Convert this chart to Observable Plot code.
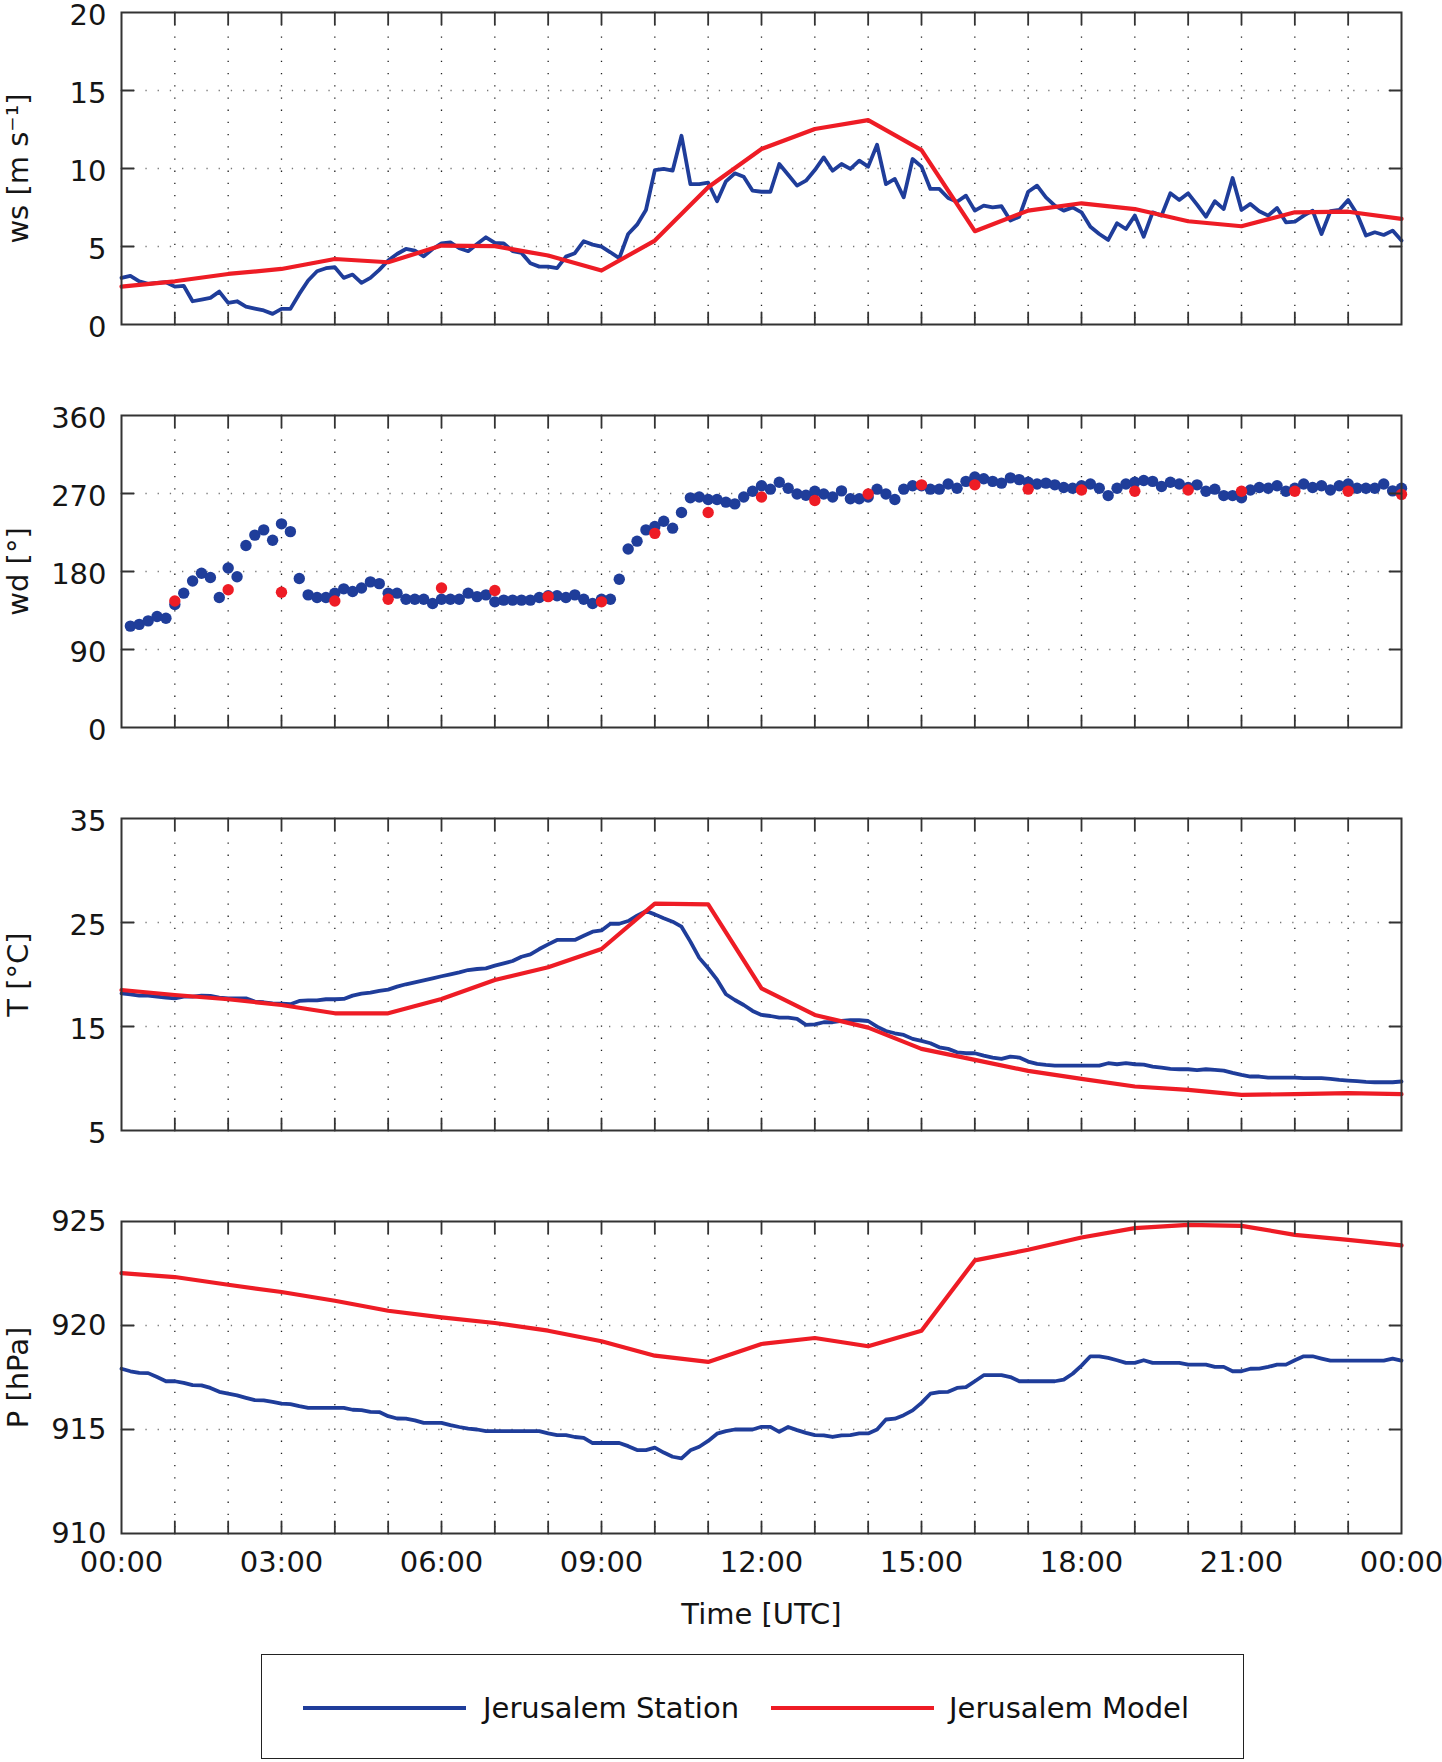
<!DOCTYPE html>
<html><head><meta charset="utf-8">
<script src="https://cdn.jsdelivr.net/npm/d3@7"></script>
<script src="https://cdn.jsdelivr.net/npm/@observablehq/plot@0.6"></script>
<style>
html,body{margin:0;padding:0;background:#fff;overflow:hidden;}
#wrap{position:relative;width:1442px;height:1762px;font-family:"DejaVu Sans",sans-serif;color:#111;}
#charts svg{display:block;}
#legend{position:absolute;left:261px;top:1654px;width:981px;height:103px;border:1.5px solid #222;background:#fff;}
#legend .ln{position:absolute;top:51px;width:163px;height:4px;}
#legend .tx{position:absolute;top:53px;transform:translateY(-50%);font-size:29px;line-height:1;white-space:nowrap;}
</style></head>
<body><div id="wrap"><div id="charts"></div>
<div id="legend">
  <div class="ln" id="l1" style="left:41px"></div>
  <div class="tx" style="left:221px">Jerusalem Station</div>
  <div class="ln" id="l2" style="left:509px"></div>
  <div class="tx" style="left:687px">Jerusalem Model</div>
</div></div>
<script>
// ---------- data ----------
// station: 10-minute samples 00:00 .. 24:00 (145 samples); model: hourly 00:00 .. 24:00 (25 values)
const stationHours = d3.range(145).map(i => i / 6);
const modelHours = d3.range(25);

const wsStation = [2.99,3.12,2.77,2.6,2.67,2.71,2.43,2.48,1.49,1.6,
1.71,2.11,1.39,1.49,1.15,1.02,0.9,0.68,1.0,1.0,
1.96,2.82,3.41,3.61,3.67,2.99,3.2,2.67,2.99,3.5,
4.1,4.52,4.84,4.74,4.37,4.84,5.2,5.27,4.89,4.7,
5.16,5.59,5.23,5.2,4.7,4.59,3.93,3.71,3.71,3.61,
4.35,4.57,5.34,5.12,4.99,4.63,4.25,5.8,6.4,7.34,
9.9,9.97,9.86,12.1,9.0,9.0,9.09,7.9,9.18,9.69,
9.47,8.58,8.51,8.51,10.29,9.6,8.9,9.22,9.9,10.71,
9.86,10.29,9.97,10.5,10.12,11.52,9.0,9.33,8.15,10.61,
10.12,8.69,8.69,8.11,7.87,8.26,7.3,7.62,7.51,7.58,
6.66,6.91,8.51,8.9,8.15,7.62,7.3,7.51,7.19,6.27,
5.8,5.42,6.49,6.12,6.98,5.63,7.19,6.98,8.41,7.98,
8.41,7.68,6.91,7.9,7.4,9.39,7.34,7.73,7.26,6.98,
7.47,6.55,6.59,6.98,7.3,5.8,7.26,7.34,7.98,7.08,
5.7,5.91,5.74,6.02,5.38];
const wsModel = [2.43,2.77,3.24,3.56,4.2,3.99,5.06,5.02,4.42,3.46,5.38,8.8,11.25,12.53,13.1,11.18,5.98,7.3,7.77,7.4,6.62,6.3,7.19,7.23,6.77];

const wdStation = [null,117,119,123,128,126,142,155,169,178,
173,150,184,174,210,222,228,216,235,226,
172,153,150,150,155,160,157,161,168,166,
155,155,148,148,148,143,148,148,148,155,
151,153,145,147,147,147,147,150,152,152,
150,153,148,143,148,148,171,206,215,228,
232,238,230,248,265,266,263,263,260,258,
266,272.6,279,275,283,276,269.5,268,272.6,269.5,
266,273,264,264,266,275,269.5,263,275,279,
279,275,275,281,276,284,289,287,284,282,
288,286,283,281,282,280,277,276,279,281,
276,267.6,276,281,283,285,284,278,283,281,
277,280,272.6,275,267.6,267.6,265,274,277,276,
279,272.6,276,281,277,279,274,279,281,276,
276,276,281,273,276];
const wdModel = [null,146,159,156,146,148,161,158,151,145,224,248,266,262,269.5,280,280,275,274,272.6,274,272.6,272.6,272.6,269];

const tStation = [18.19,18.1,17.97,17.97,17.87,17.78,17.71,17.87,17.87,17.97,
17.94,17.78,17.71,17.71,17.71,17.39,17.33,17.23,17.2,17.14,
17.46,17.52,17.52,17.62,17.62,17.65,17.97,18.16,18.26,18.42,
18.55,18.83,19.06,19.25,19.44,19.63,19.83,20.02,20.21,20.43,
20.53,20.59,20.85,21.07,21.3,21.71,21.94,22.45,22.9,23.32,
23.32,23.32,23.73,24.12,24.24,24.88,24.88,25.14,25.65,26.1,
25.78,25.4,25.08,24.6,23.16,21.6,20.6,19.5,18.1,17.55,
17.07,16.5,16.11,16.01,15.85,15.85,15.73,15.15,15.21,15.41,
15.41,15.53,15.6,15.6,15.53,14.99,14.57,14.35,14.19,13.81,
13.61,13.39,13.0,12.85,12.52,12.43,12.43,12.2,12.01,11.88,
12.11,12.01,11.63,11.4,11.31,11.24,11.24,11.24,11.24,11.24,
11.24,11.47,11.37,11.47,11.37,11.34,11.15,11.05,10.92,10.89,
10.89,10.8,10.89,10.83,10.76,10.54,10.35,10.19,10.19,10.09,
10.09,10.09,10.09,10.03,10.03,10.03,9.96,9.87,9.8,9.74,
9.68,9.64,9.64,9.64,9.71];
const tModel = [18.51,18.03,17.62,17.07,16.27,16.27,17.65,19.47,20.69,22.45,26.81,26.74,18.67,16.11,14.89,12.85,11.79,10.73,9.96,9.23,8.91,8.43,8.49,8.59,8.49];

const pStation = [917.92,917.8,917.72,917.71,917.52,917.32,917.32,917.24,917.13,917.12,
917.0,916.81,916.72,916.64,916.52,916.41,916.4,916.33,916.24,916.22,
916.12,916.04,916.04,916.04,916.04,916.04,915.95,915.93,915.85,915.84,
915.64,915.53,915.52,915.44,915.32,915.32,915.32,915.21,915.12,915.04,
915.0,914.92,914.92,914.92,914.92,914.92,914.92,914.92,914.81,914.73,
914.73,914.64,914.6,914.35,914.35,914.35,914.35,914.2,914.01,914.01,
914.13,913.89,913.69,913.61,914.0,914.17,914.45,914.8,914.92,915.0,
915.0,915.0,915.13,915.13,914.89,915.12,914.97,914.84,914.73,914.72,
914.64,914.72,914.73,914.81,914.81,915.0,915.48,915.52,915.69,915.92,
916.28,916.72,916.8,916.81,917.0,917.04,917.32,917.61,917.61,917.61,
917.52,917.32,917.32,917.32,917.32,917.32,917.4,917.68,918.07,918.52,
918.52,918.44,918.33,918.2,918.2,918.33,918.2,918.2,918.2,918.2,
918.12,918.12,918.12,918.01,918.01,917.8,917.8,917.92,917.93,918.01,
918.12,918.12,918.33,918.52,918.52,918.41,918.31,918.31,918.31,918.31,
918.31,918.31,918.31,918.41,918.31];
const pModel = [922.52,922.33,921.96,921.61,921.19,920.71,920.39,920.12,919.75,919.24,918.55,918.25,919.11,919.4,919.0,919.75,923.13,923.64,924.23,924.68,924.84,924.79,924.36,924.12,923.85];

const wsTicks = [0,5,10,15,20];
const wdTicks = [0,90,180,270,360];
const tTicks = [5,15,25,35];
const pTicks = [910,915,920,925];
const hourTicks = d3.range(1,24);
const hourLabels = [0,3,6,9,12,15,18,21,24];

const labels = {ws: "ws [m s\u207B\u00B9]", wd: "wd [\u00B0]", t: "T [\u00B0C]", p: "P [hPa]", x: "Time [UTC]", station: "Jerusalem Station", model: "Jerusalem Model"};

// ---------- tables ----------
const station = stationHours.map((h, i) => ({h, ws: wsStation[i], wd: wdStation[i], t: tStation[i], p: pStation[i]}));
const model = modelHours.map((h, i) => ({h, ws: wsModel[i], wd: wdModel[i], t: tModel[i], p: pModel[i]}));

const BLUE = "#1f3d9a", RED = "#ee1c25", INK = "#151515";
document.getElementById("l1").style.background = BLUE;
document.getElementById("l2").style.background = RED;

const tickShape = {draw(ctx, l) { ctx.moveTo(0, 0); ctx.lineTo(0, -l); }};
const fmtHour = h => String(h % 24).padStart(2, "0") + ":00";
const FS = 29;

function panel({ticks, label, marks, height = 403, marginBottom = 79, xAxis = false, tickDy = 3}) {
  const inner = ticks.slice(1, -1);
  const tk = {length: 12, anchor: "start", shape: tickShape, stroke: "#333", strokeWidth: 1.8};
  const m = [
    Plot.ruleX(hourTicks, {x: d => d, stroke: "#222", strokeWidth: 1.3, strokeDasharray: "1.3,10.9"}),
    Plot.ruleY(inner, {y: d => d, stroke: "#777", strokeWidth: 1.3, strokeDasharray: "1.3,10.9"}),
    ...marks,
    Plot.frame({stroke: "#333", strokeWidth: 2}),
    Plot.vector(hourTicks, {x: d => d, frameAnchor: "bottom", rotate: 0, ...tk}),
    Plot.vector(hourTicks, {x: d => d, frameAnchor: "top", rotate: 180, ...tk}),
    Plot.vector(inner, {y: d => d, frameAnchor: "left", rotate: 90, ...tk}),
    Plot.vector(inner, {y: d => d, frameAnchor: "right", rotate: -90, ...tk}),
    Plot.text(ticks, {y: d => d, text: d => String(d), frameAnchor: "left", textAnchor: "end", lineAnchor: "middle", dx: -15, dy: tickDy, fontSize: FS, fill: INK}),
    Plot.text([label], {text: d => d, frameAnchor: "left", textAnchor: "middle", lineAnchor: "middle", dx: -103, rotate: -90, fontSize: FS, fill: INK})
  ];
  if (xAxis) {
    m.push(Plot.text(hourLabels, {x: d => d, text: fmtHour, frameAnchor: "bottom", textAnchor: "middle", lineAnchor: "middle", dy: 29, fontSize: FS, fill: INK}));
    m.push(Plot.text([labels.x], {text: d => d, frameAnchor: "bottom", textAnchor: "middle", lineAnchor: "middle", dy: 81, fontSize: FS, fill: INK}));
  }
  return Plot.plot({
    width: 1442, height,
    marginLeft: 121, marginRight: 41, marginTop: 12, marginBottom,
    x: {domain: [0, 24], axis: null},
    y: {domain: [ticks[0], ticks[ticks.length - 1]], axis: null},
    style: {fontFamily: "DejaVu Sans", background: "transparent", overflow: "visible"},
    marks: m
  });
}

const lineOpts = (y, c) => ({x: "h", y, stroke: c, strokeWidth: c === RED ? 4.2 : 3.8});

const charts = document.getElementById("charts");
charts.append(panel({ticks: wsTicks, label: labels.ws, marks: [
  Plot.line(station, lineOpts("ws", BLUE)),
  Plot.line(model, lineOpts("ws", RED))
]}));
charts.append(panel({ticks: wdTicks, label: labels.wd, marks: [
  Plot.dot(station.filter(d => d.wd != null), {x: "h", y: "wd", r: 5.7, fill: BLUE}),
  Plot.dot(model.filter(d => d.wd != null), {x: "h", y: "wd", r: 5.7, fill: RED})
]}));
charts.append(panel({ticks: tTicks, label: labels.t, marks: [
  Plot.line(station, lineOpts("t", BLUE)),
  Plot.line(model, lineOpts("t", RED))
]}));
charts.append(panel({ticks: pTicks, label: labels.p, height: 440, marginBottom: 116, xAxis: true, tickDy: 0, marks: [
  Plot.line(station, lineOpts("p", BLUE)),
  Plot.line(model, lineOpts("p", RED))
]}));
</script></body></html>
